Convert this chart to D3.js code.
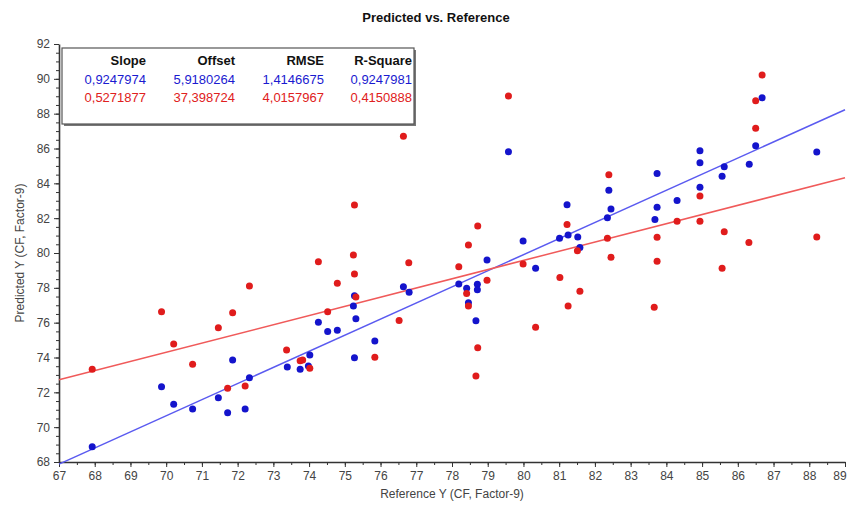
<!DOCTYPE html>
<html>
<head>
<meta charset="utf-8">
<script src="https://cdn.jsdelivr.net/npm/d3@7"></script>
<style>
  html, body { margin: 0; padding: 0; background: #fff; }
  svg { display: block; }
</style>
</head>
<body>
<svg id="chart" width="849" height="506"></svg>
<script>
// ---- data ----
const title = "Predicted vs. Reference";
const xTitle = "Reference Y (CF, Factor-9)";
const yTitle = "Predicted Y (CF, Factor-9)";
const xTicks = d3.range(67, 90, 1);
const yTicks = d3.range(68, 93, 2);

const blueX = [67.93,69.87,70.21,70.74,71.46,71.86,71.72,72.21,72.33,73.39,73.75,73.98,74.02,74.26,74.52,74.79,75.27,75.24,75.31,75.27,75.84,76.64,76.80,78.19,78.41,78.71,78.71,78.46,78.67,78.98,79.58,79.99,80.34,81.01,81.25,81.22,81.52,81.58,82.35,82.45,82.39,83.68,83.74,83.74,84.30,84.94,84.94,84.94,85.56,85.62,86.32,86.50,86.68,88.21];
const blueY = [68.88,72.32,71.31,71.04,71.69,73.86,70.83,71.04,72.84,73.45,73.32,73.51,74.14,76.02,75.50,75.56,73.99,76.96,76.23,77.55,74.95,78.06,77.74,78.22,77.97,78.20,77.89,77.15,76.11,79.60,85.81,80.69,79.12,80.84,81.03,82.77,80.92,80.32,82.02,82.52,83.61,81.93,82.62,84.57,83.02,83.77,85.18,85.87,84.40,84.95,85.09,86.16,88.91,85.80];

const redX = [67.93,69.87,70.21,70.74,71.46,71.86,72.33,71.72,72.21,73.37,73.75,73.82,74.02,74.26,74.52,74.79,75.27,75.24,75.27,75.31,75.84,76.52,76.64,76.79,78.19,78.46,78.72,78.41,78.46,78.98,78.72,78.67,79.58,79.99,80.34,81.02,81.25,81.22,81.51,81.58,82.35,82.45,82.39,83.66,83.74,83.74,84.30,84.94,84.94,85.56,85.62,86.31,86.50,86.50,86.68,88.21];
const redY = [73.32,76.63,74.77,73.61,75.71,76.57,78.10,72.23,72.36,74.43,73.82,73.86,73.38,79.50,76.63,78.26,82.75,79.88,78.79,77.47,74.01,76.13,86.71,79.44,79.21,80.46,81.55,77.68,76.96,78.43,74.56,72.94,89.01,79.37,75.73,78.60,76.96,81.64,80.13,77.80,80.84,79.75,84.49,76.88,79.52,80.90,81.83,81.83,83.27,79.12,81.22,80.61,87.16,88.74,90.22,80.92];

const statHeaders = ["Slope", "Offset", "RMSE", "R-Square"];
const blueStats = ["0,9247974", "5,9180264", "1,4146675", "0,9247981"];
const redStats  = ["0,5271877", "37,398724", "4,0157967", "0,4150888"];
const blueFit = { slope: 0.9247974, offset: 5.9180264 };
const redFit  = { slope: 0.5271877, offset: 37.398724 };

// ---- drawing ----
const svg = d3.select("#chart");
const font = "'Liberation Sans', Arial, sans-serif";
const L = 59, R = 845, T = 44, B = 462;
const x = d3.scaleLinear().domain([67, 89]).range([L, R]);
const y = d3.scaleLinear().domain([68, 92]).range([B, T]);

const blueDot = "#1414cc", redDot = "#e01c1c";
const blueLine = "#5a5af0", redLine = "#f05a5a";

// title
svg.append("text").attr("x", 436).attr("y", 22).attr("text-anchor", "middle")
  .style("font-family", font).style("font-weight", "bold").style("font-size", "13px")
  .attr("fill", "#111").text(title);

// minor ticks
svg.append("g").attr("transform", `translate(0,${B})`)
  .call(d3.axisBottom(x).tickValues(d3.range(67, 89.01, 0.5)).tickSize(3).tickFormat(""))
  .call(g => g.select(".domain").remove())
  .call(g => g.selectAll("line").attr("stroke", "#333"));
svg.append("g").attr("transform", `translate(${L},0)`)
  .call(d3.axisLeft(y).tickValues(d3.range(68, 92.01, 0.5)).tickSize(3).tickFormat(""))
  .call(g => g.select(".domain").remove())
  .call(g => g.selectAll("line").attr("stroke", "#333"));

// major axes
const xa = svg.append("g").attr("transform", `translate(0,${B})`)
  .call(d3.axisBottom(x).tickValues(xTicks).tickSize(5).tickSizeOuter(0).tickPadding(4).tickFormat(d3.format("d")));
const ya = svg.append("g").attr("transform", `translate(${L},0)`)
  .call(d3.axisLeft(y).tickValues(yTicks).tickSize(5).tickSizeOuter(0).tickPadding(4).tickFormat(d3.format("d")));
[xa, ya].forEach(g => {
  g.select(".domain").attr("stroke", "#333").attr("stroke-width", 1.6);
  g.selectAll(".tick line").attr("stroke", "#333");
  g.selectAll("text").style("font-family", font).style("font-size", "12px").attr("fill", "#444");
});
// keep the last x label inside the page
xa.selectAll(".tick").filter(d => d === 89).select("text").attr("text-anchor", "end").attr("dx", "0.1em");

// axis titles
svg.append("text").attr("x", 452).attr("y", 498).attr("text-anchor", "middle")
  .style("font-family", font).style("font-size", "12px").attr("fill", "#444").text(xTitle);
svg.append("text").attr("transform", `translate(24,${(T + B) / 2}) rotate(-90)`).attr("text-anchor", "middle")
  .style("font-family", font).style("font-size", "12px").attr("fill", "#444").text(yTitle);

// regression lines
const plot = svg.append("g");
[[blueFit, blueLine], [redFit, redLine]].forEach(([f, c]) => {
  plot.append("line")
    .attr("x1", x(67)).attr("y1", y(f.slope * 67 + f.offset))
    .attr("x2", x(89)).attr("y2", y(f.slope * 89 + f.offset))
    .attr("stroke", c).attr("stroke-width", 1.5);
});

// points
const r = 3.5;
plot.selectAll(".bdot").data(blueX.map((v, i) => [v, blueY[i]])).join("circle")
  .attr("class", "bdot").attr("cx", d => x(d[0])).attr("cy", d => y(d[1])).attr("r", r).attr("fill", blueDot);
plot.selectAll(".rdot").data(redX.map((v, i) => [v, redY[i]])).join("circle")
  .attr("class", "rdot").attr("cx", d => x(d[0])).attr("cy", d => y(d[1])).attr("r", r).attr("fill", redDot);

// legend table
const lg = svg.append("g");
lg.append("rect").attr("x", 64).attr("y", 50).attr("width", 352).attr("height", 76).attr("fill", "#777");
lg.append("rect").attr("x", 62).attr("y", 48).attr("width", 352).attr("height", 76)
  .attr("fill", "#fff").attr("stroke", "#555").attr("stroke-width", 1.2);
const colRight = [146, 235, 324, 412];
const rows = [[statHeaders, "#111", "bold"], [blueStats, "#1a1ad0", "normal"], [redStats, "#e02020", "normal"]];
rows.forEach(([vals, col, w], ri) => {
  vals.forEach((v, ci) => {
    lg.append("text").attr("x", colRight[ci]).attr("y", 65 + ri * 18.5).attr("text-anchor", "end")
      .style("font-family", font).style("font-size", "13px").style("font-weight", w)
      .attr("fill", col).text(v);
  });
});
</script>
</body>
</html>
